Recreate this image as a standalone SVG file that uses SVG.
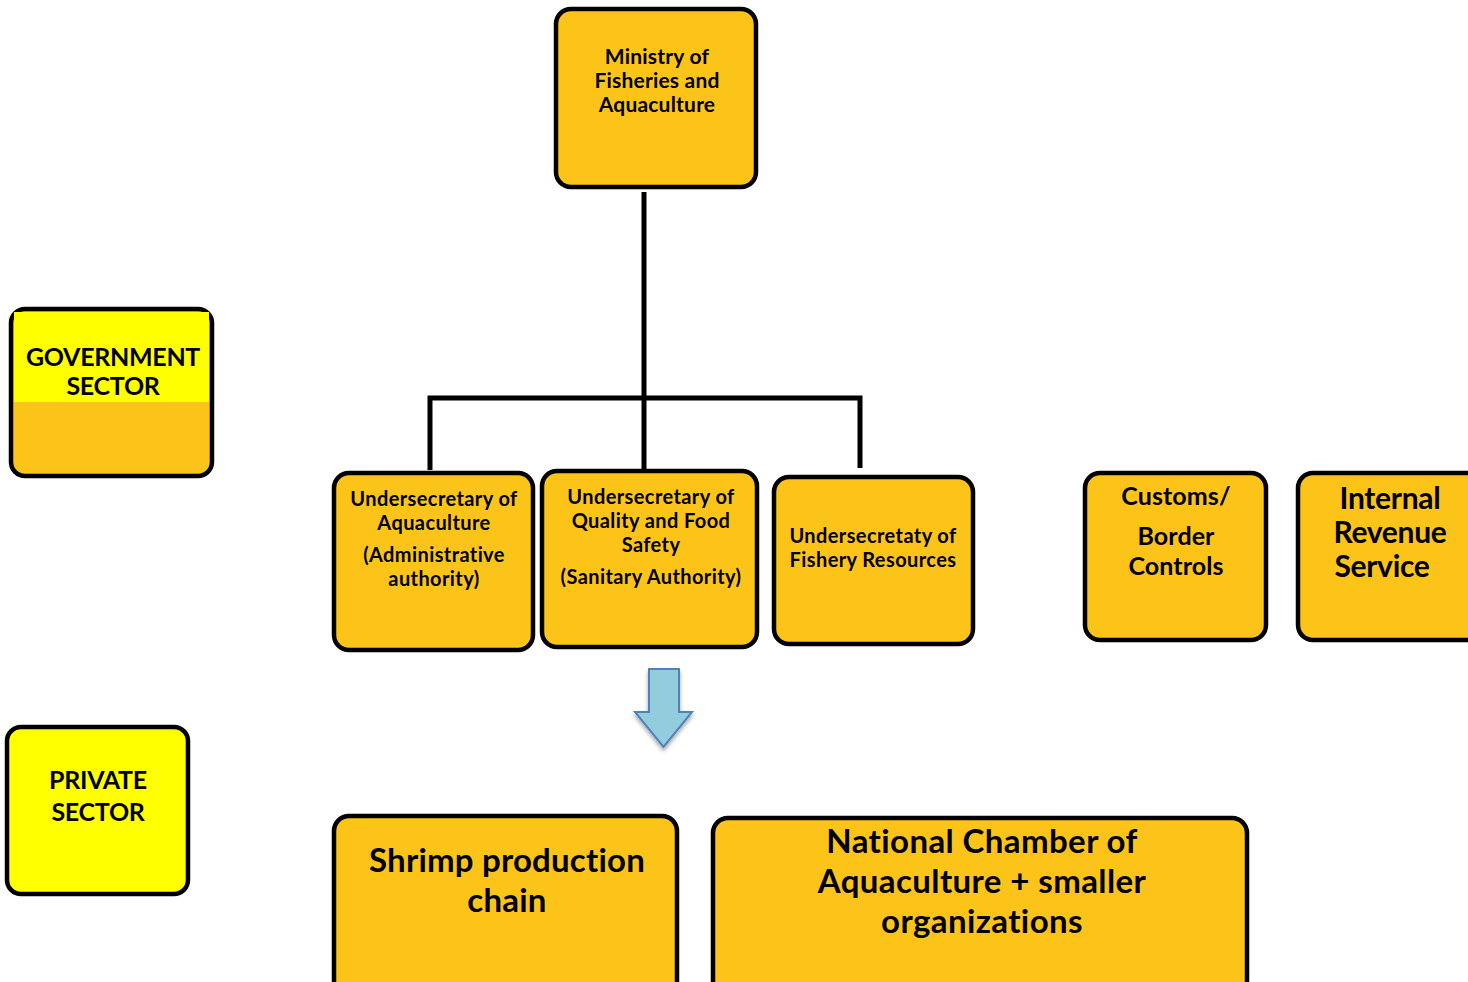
<svg xmlns="http://www.w3.org/2000/svg" width="1468" height="982" viewBox="0 0 1468 982">
<defs>
<style>
.box{fill:#FCC419;stroke:#000;stroke-width:4.5}
.ybox{fill:#FFFF00;stroke:#000;stroke-width:4.5}
.t{font-family:Lato,"Open Sans",sans-serif;font-weight:700;fill:#000;text-anchor:middle;letter-spacing:-0.3px}
.s{letter-spacing:0.4px}
.conn{stroke:#000;stroke-width:5;fill:none}
</style>
<filter id="sh" x="-30%" y="-30%" width="160%" height="160%">
<feGaussianBlur in="SourceAlpha" stdDeviation="2"/>
<feOffset dx="0" dy="3"/>
<feComponentTransfer><feFuncA type="linear" slope="0.35"/></feComponentTransfer>
<feMerge><feMergeNode/><feMergeNode in="SourceGraphic"/></feMerge>
</filter>
</defs>
<rect width="1468" height="982" fill="#fff"/>
<g id="connectors">
<path class="conn" d="M644 192 V470"/>
<path class="conn" d="M430 470 V398 H860 V468"/>
</g>
<g id="ministry">
<rect class="box" x="556" y="9" width="200" height="178" rx="15"/>
<text class="t" font-size="21" x="657" style="letter-spacing:0.2px"><tspan x="657" y="64">Ministry of</tspan><tspan x="657" y="88">Fisheries and</tspan><tspan x="657" y="112">Aquaculture</tspan></text>
</g>
<g id="gov-sector">
<rect class="box" x="11" y="309" width="201" height="167" rx="14"/>
<rect x="14" y="312" width="195" height="90" fill="#FFFF00"/>
<text class="t" font-size="25" x="113"><tspan x="113" y="366">GOVERNMENT</tspan><tspan x="113" y="395">SECTOR</tspan></text>
</g>
<g id="under-aquaculture">
<rect class="box" x="334" y="473" width="199" height="177" rx="15"/>
<text class="t s" font-size="20" x="434"><tspan x="434" y="506">Undersecretary of</tspan><tspan x="434" y="530">Aquaculture</tspan><tspan x="434" y="562">(Administrative</tspan><tspan x="434" y="586">authority)</tspan></text>
</g>
<g id="under-quality">
<rect class="box" x="542" y="471" width="215" height="176" rx="15"/>
<text class="t s" font-size="20" x="651"><tspan x="651" y="504">Undersecretary of</tspan><tspan x="651" y="528">Quality and Food</tspan><tspan x="651" y="552">Safety</tspan><tspan x="651" y="584">(Sanitary Authority)</tspan></text>
</g>
<g id="under-fishery">
<rect class="box" x="774" y="477" width="199" height="167" rx="15"/>
<text class="t s" font-size="20" x="873"><tspan x="873" y="543">Undersecretaty of</tspan><tspan x="873" y="567">Fishery Resources</tspan></text>
</g>
<g id="customs">
<rect class="box" x="1085" y="473" width="181" height="167" rx="15"/>
<text class="t" font-size="25" x="1176" style="letter-spacing:0.1px"><tspan x="1176" y="505">Customs/</tspan><tspan x="1176" y="545">Border</tspan><tspan x="1176" y="575">Controls</tspan></text>
</g>
<g id="internal-revenue">
<rect class="box" x="1298" y="473" width="185" height="167" rx="15"/>
<text class="t" font-size="30" x="1390"><tspan x="1390" y="509">Internal</tspan><tspan x="1390" y="543">Revenue</tspan><tspan x="1382" y="577">Service</tspan></text>
</g>
<g id="arrow">
<path d="M649 669 H679 V712 H692 L663.5 747 L635 712 H649 Z" fill="#93CDDD" stroke="#4F81BD" stroke-width="2" stroke-linejoin="miter" filter="url(#sh)"/>
</g>
<g id="private-sector">
<rect class="ybox" x="7" y="727" width="181" height="167" rx="14"/>
<text class="t" font-size="25" x="98"><tspan x="98" y="789">PRIVATE</tspan><tspan x="98" y="821">SECTOR</tspan></text>
</g>
<g id="shrimp">
<rect class="box" x="334" y="816" width="343" height="180" rx="15"/>
<text class="t" font-size="33" x="507" style="letter-spacing:0.2px"><tspan x="507" y="872">Shrimp production</tspan><tspan x="507" y="912">chain</tspan></text>
</g>
<g id="chamber">
<rect class="box" x="713" y="818" width="534" height="178" rx="15"/>
<text class="t" font-size="33" x="982" style="letter-spacing:0.4px"><tspan x="982" y="853">National Chamber of</tspan><tspan x="982" y="893">Aquaculture + smaller</tspan><tspan x="982" y="933">organizations</tspan></text>
</g>
</svg>
